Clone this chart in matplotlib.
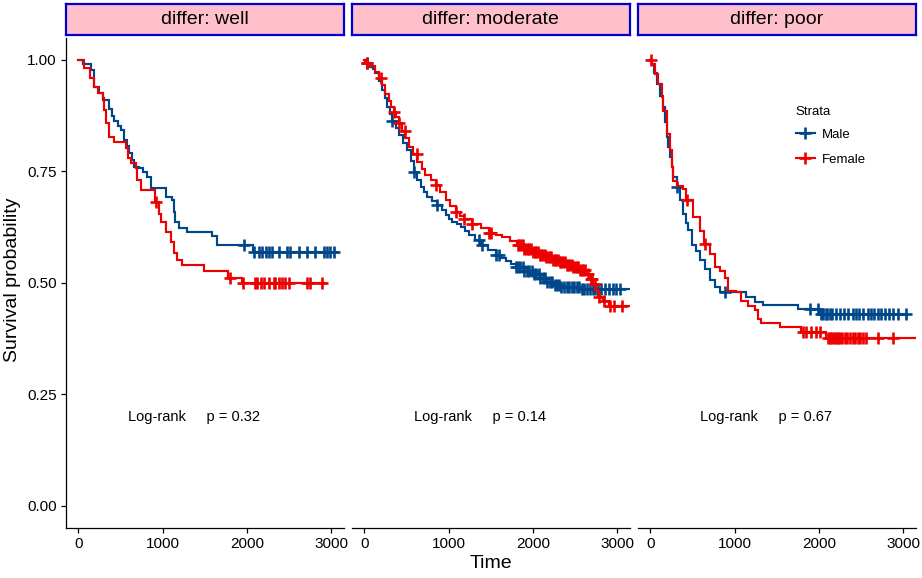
import numpy as np
import matplotlib
matplotlib.use("Agg")
import matplotlib.pyplot as plt
from matplotlib.lines import Line2D

plt.rcParams['font.family'] = ['Liberation Sans', 'DejaVu Sans']

# ---------------- data ----------------
panels = ['well', 'moderate', 'poor']
strata = ['Male', 'Female']
pvalues = ['0.32', '0.14', '0.67']
xticks = [0, 1000, 2000, 3000]
yticks = [0.00, 0.25, 0.50, 0.75, 1.00]

# differ: well
well_male_t = [0, 60, 150, 189, 240, 288, 367, 400, 426, 470, 505, 545, 575, 604, 635, 663, 722, 770,
               821, 860, 1038, 1117, 1130, 1145, 1196, 1294, 1590, 1650, 2070]
well_male_s = [1.0, 0.99, 0.978, 0.94, 0.925, 0.91, 0.89, 0.875, 0.862, 0.852, 0.843, 0.821, 0.806,
               0.791, 0.776, 0.761, 0.757, 0.748, 0.738, 0.712, 0.693, 0.685, 0.66, 0.637, 0.622,
               0.613, 0.604, 0.585, 0.57]
well_male_end = 3070
well_male_cens = [1965, 2084, 2143, 2183, 2222, 2262, 2301, 2380, 2478, 2518, 2617, 2715, 2814,
                  2912, 2952, 2991, 3031]

well_female_t = [0, 71, 142, 189, 229, 290, 308, 328, 367, 426, 564, 584, 624, 683, 702, 742, 910,
                 960, 985, 1038, 1097, 1137, 1176, 1235, 1492, 1780, 1946]
well_female_s = [1.0, 0.981, 0.959, 0.94, 0.925, 0.914, 0.888, 0.858, 0.828, 0.817, 0.802, 0.779,
                 0.768, 0.757, 0.731, 0.708, 0.682, 0.655, 0.637, 0.615, 0.592, 0.566, 0.551, 0.54,
                 0.527, 0.512, 0.499]
well_female_end = 2932
well_female_cens = [917, 1795, 1957, 2103, 2123, 2163, 2202, 2261, 2320, 2340, 2380, 2419, 2459,
                    2498, 2715, 2754, 2893]

# differ: moderate
moderate_male_t = [0, 32, 70, 100, 131, 170, 210, 240, 270, 300, 329, 370, 409, 460, 508, 550, 587,
                   630, 667, 710, 746, 800, 865, 920, 964, 1000, 1044, 1100, 1143, 1190, 1242, 1310,
                   1381, 1470, 1560, 1620, 1679, 1740, 1798, 1900, 1996, 2080, 2155, 2240, 2313, 2552]
moderate_male_s = [1.0, 0.994, 0.984, 0.979, 0.97, 0.952, 0.933, 0.914, 0.895, 0.879, 0.862, 0.847,
                   0.832, 0.814, 0.798, 0.774, 0.749, 0.731, 0.715, 0.704, 0.693, 0.684, 0.674, 0.664,
                   0.652, 0.644, 0.637, 0.631, 0.625, 0.616, 0.607, 0.596, 0.584, 0.573, 0.562, 0.556,
                   0.55, 0.543, 0.535, 0.527, 0.52, 0.51, 0.502, 0.496, 0.49, 0.487]
moderate_male_end = 3200
moderate_male_cens = [32, 329, 587, 865, 1361, 1401, 1560, 1599, 1798, 1820, 1850, 1880, 1900, 1930,
                      1960, 1990, 2010, 2040, 2070, 2090, 2120, 2150, 2170, 2200, 2230, 2260, 2290,
                      2310, 2340, 2370, 2400, 2430, 2460, 2490, 2520, 2550, 2580, 2610, 2640, 2680,
                      2710, 2740, 2770, 2810, 2860, 2900, 2950, 2990, 3040]

moderate_female_t = [0, 12, 60, 131, 170, 210, 250, 290, 320, 349, 380, 409, 450, 488, 530, 580, 627,
                     680, 726, 790, 845, 900, 964, 1020, 1083, 1130, 1183, 1282, 1380, 1480, 1560,
                     1639, 1730, 1817, 1900, 1996, 2080, 2155, 2230, 2313, 2390, 2472, 2550, 2631,
                     2680, 2710, 2740, 2770, 2830, 2909]
moderate_female_s = [1.0, 0.994, 0.986, 0.974, 0.959, 0.944, 0.924, 0.907, 0.894, 0.884, 0.871,
                     0.858, 0.84, 0.824, 0.804, 0.789, 0.772, 0.756, 0.742, 0.73, 0.719, 0.704, 0.685,
                     0.672, 0.659, 0.651, 0.644, 0.633, 0.622, 0.612, 0.608, 0.603, 0.594, 0.584,
                     0.576, 0.569, 0.563, 0.558, 0.552, 0.547, 0.541, 0.535, 0.528, 0.52, 0.509,
                     0.498, 0.484, 0.468, 0.459, 0.449]
moderate_female_end = 3200
moderate_female_cens = [32, 200, 349, 409, 480, 620, 845, 1083, 1183, 1282, 1480, 1500, 1820, 1840,
                        1860, 1880, 1900, 1920, 1940, 1960, 1980, 2000, 2020, 2040, 2060, 2080,
                        2100, 2120, 2140, 2160, 2180, 2200, 2220, 2240, 2260, 2280, 2300, 2320,
                        2340, 2360, 2380, 2400, 2420, 2440, 2460, 2480, 2500, 2520, 2540, 2560,
                        2580, 2600, 2620, 2650, 2690, 2700, 2735, 2790, 2850, 2920, 2960, 3060]

# differ: poor
poor_male_t = [0, 16, 45, 75, 110, 154, 175, 193, 215, 233, 255, 272, 312, 351, 391, 420, 450, 489,
               540, 588, 650, 706, 766, 825, 1140, 1239, 1338, 1752, 2009]
poor_male_s = [1.0, 0.991, 0.97, 0.946, 0.92, 0.894, 0.86, 0.827, 0.805, 0.782, 0.76, 0.737, 0.715,
               0.685, 0.655, 0.635, 0.618, 0.584, 0.572, 0.551, 0.53, 0.506, 0.491, 0.48, 0.468,
               0.457, 0.45, 0.442, 0.431]
poor_male_end = 3050
poor_male_cens = [312, 884, 1890, 1989, 2030, 2050, 2080, 2100, 2130, 2160, 2200, 2250, 2300, 2350,
                  2400, 2440, 2480, 2520, 2580, 2620, 2660, 2700, 2740, 2780, 2830, 2880, 2940,
                  3030]

poor_female_t = [0, 20, 55, 95, 134, 154, 193, 233, 253, 272, 312, 391, 425, 509, 588, 640, 706,
                 766, 825, 884, 923, 1022, 1081, 1160, 1239, 1279, 1318, 1535, 1792, 2088]
poor_female_s = [1.0, 0.99, 0.968, 0.946, 0.916, 0.886, 0.834, 0.797, 0.759, 0.729, 0.718, 0.711,
                 0.686, 0.647, 0.617, 0.587, 0.565, 0.535, 0.527, 0.512, 0.482, 0.479, 0.46, 0.449,
                 0.438, 0.419, 0.411, 0.4, 0.389, 0.377]
poor_female_end = 3200
poor_female_cens = [10, 430, 647, 1811, 1850, 1910, 1970, 2009, 2110, 2130, 2150, 2170, 2190, 2210,
                    2230, 2250, 2280, 2310, 2340, 2370, 2400, 2430, 2460, 2490, 2520, 2560, 2700,
                    2880]

series = {
    'well': [(well_male_t, well_male_s, well_male_end, well_male_cens),
             (well_female_t, well_female_s, well_female_end, well_female_cens)],
    'moderate': [(moderate_male_t, moderate_male_s, moderate_male_end, moderate_male_cens),
                 (moderate_female_t, moderate_female_s, moderate_female_end, moderate_female_cens)],
    'poor': [(poor_male_t, poor_male_s, poor_male_end, poor_male_cens),
             (poor_female_t, poor_female_s, poor_female_end, poor_female_cens)],
}

colors = ['#00468B', '#ED0000']

# ---------------- layout ----------------
W, H = 922, 578
fig = plt.figure(figsize=(W / 100, H / 100), dpi=100)
lefts = [65.7, 351.7, 637.7]
pw = 278.0
ptop, pbot = 37.7, 528.0
stop, sbot = 3.5, 35.0

LW, MS, MEW = 1.55, 8, 1.9

def step_value(t, s, x):
    idx = np.searchsorted(np.asarray(t), x, side='right') - 1
    return np.asarray(s)[idx]

axes = []
for i, name in enumerate(panels):
    ax = fig.add_axes([lefts[i] / W, 1 - pbot / H, pw / W, (pbot - ptop) / H])
    axes.append(ax)
    for (t, s, end, cens), c in zip(series[name], colors):
        tt = list(t) + [end]
        ss = list(s) + [s[-1]]
        ax.step(tt, ss, where='post', color=c, lw=LW, solid_joinstyle='miter')
        cy = step_value(t, s, cens)
        ax.plot(cens, cy, ls='none', marker='+', ms=MS, mew=MEW, color=c)
    ax.set_xlim(-150, 3150)
    ax.set_ylim(-0.05, 1.05)
    ax.set_xticks(xticks)
    ax.set_xticklabels([str(v) for v in xticks])
    ax.spines['top'].set_visible(False)
    ax.spines['right'].set_visible(False)
    ax.spines['bottom'].set_linewidth(0.9)
    ax.tick_params(axis='x', direction='out', length=3.5, width=0.9, labelsize=11,
                   colors='black', pad=3)
    if i == 0:
        ax.set_yticks(yticks)
        ax.set_yticklabels(['%.2f' % v for v in yticks])
        ax.spines['left'].set_linewidth(0.9)
        ax.tick_params(axis='y', direction='out', length=3.5, width=0.9, labelsize=11,
                       colors='black', pad=3)
    else:
        ax.spines['left'].set_visible(False)
        ax.set_yticks([])
    ax.text(1370, 0.2, 'Log-rank     p = ' + pvalues[i], ha='center', va='center',
            fontsize=10.5)

    # strip
    sax = fig.add_axes([lefts[i] / W, 1 - sbot / H, pw / W, (sbot - stop) / H])
    sax.set_facecolor('#FFC0CB')
    sax.set_xticks([])
    sax.set_yticks([])
    for sp in sax.spines.values():
        sp.set_color('#0000CD')
        sp.set_linewidth(1.6)
    sax.text(0.5, 0.5, 'differ: ' + name, ha='center', va='center', fontsize=14,
             transform=sax.transAxes)

fig.text((65.7 + 916) / 2 / W, 1 - 564 / H, 'Time', ha='center', va='center', fontsize=14)
fig.text(13 / W, 1 - 280 / H, 'Survival probability', ha='center', va='center',
         rotation=90, fontsize=14)

handles = [Line2D([0], [0], color=c, lw=LW, marker='+', ms=MS, mew=MEW) for c in colors]
leg = axes[2].legend(handles, strata, title='Strata', loc='upper left',
                     bbox_to_anchor=(789 / W, 1 - 99 / H), bbox_transform=fig.transFigure,
                     frameon=False, fontsize=9.5, title_fontsize=9.5, handlelength=1.45,
                     handletextpad=0.55, labelspacing=0.95, borderpad=0, alignment='left')
leg._legend_box.sep = 8

fig.savefig('out.png', dpi=100)
